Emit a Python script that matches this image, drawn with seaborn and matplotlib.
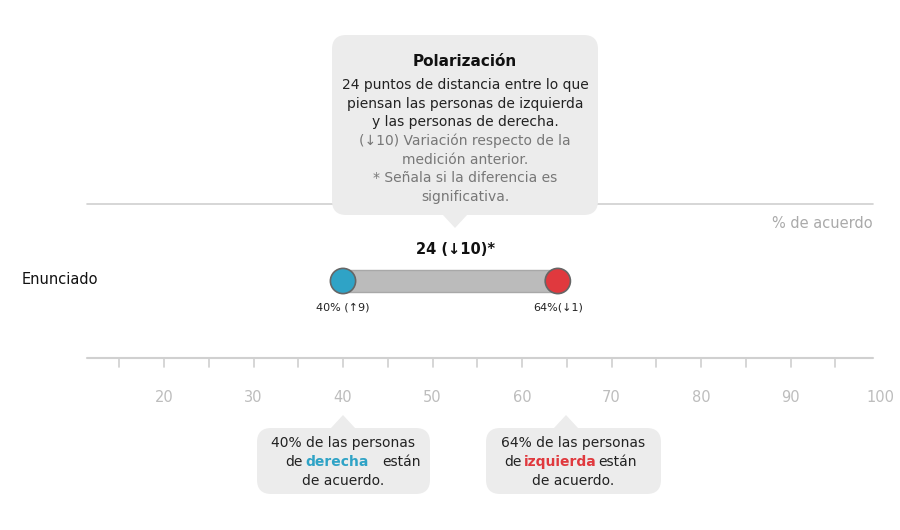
import matplotlib.pyplot as plt
import seaborn as sns
import pandas as pd
from matplotlib.patches import FancyBboxPatch, Polygon, Rectangle

sns.set_style("white")
plt.rcParams['font.family'] = ['DejaVu Sans']

# data
statement = "Enunciado"
groups = ["derecha", "izquierda"]
values = [40, 64]
changes = ["40% (\u21919)", "64%(\u21931)"]
colors = ["#2fa3c6", "#e0393e"]
gap_label = "24 (\u219310)*"
ticks = list(range(15, 100, 5))
tick_labels = [20, 30, 40, 50, 60, 70, 80, 90, 100]

# axes fill the figure; x in data units, y in pixels from the top
PX = 8.95  # pixels per unit
def xv(px):
    return 40 + (px - 343) / PX

fig = plt.figure(figsize=(9, 5.3), dpi=100)
ax = fig.add_axes([0, 0, 1, 1])
ax.set_xlim(xv(0), xv(900))
ax.set_ylim(530, 0)
ax.axis('off')

grey_line = "#d0d0d0"
ax.plot([xv(87), xv(873)], [204, 204], color=grey_line, lw=1.2)
ax.plot([xv(87), xv(873)], [358, 358], color=grey_line, lw=1.5)
for t in ticks:
    ax.plot([t, t], [358, 367], color=grey_line, lw=1.2)
for t in tick_labels:
    ax.text(t, 397, str(t), ha='center', va='center', fontsize=10.5, color="#bdbdbd",
            clip_on=True)
ax.text(xv(873), 223, "% de acuerdo", ha='right', va='center', fontsize=10.5, color="#aaaaaa")
ax.text(xv(22), 280, statement, ha='left', va='center', fontsize=10.5, color="#111111")

# dumbbell bar
ax.add_patch(Rectangle((values[0], 270), values[1] - values[0], 22,
                       facecolor="#bbbbbb", edgecolor="#a8a8a8", lw=1, zorder=2))
df = pd.DataFrame({"x": values, "y": [281, 281], "g": groups})
sns.scatterplot(data=df, x="x", y="y", hue="g", palette=colors, s=330,
                edgecolor="#666666", linewidth=1.2, legend=False, ax=ax, zorder=3)
ax.set_xlabel("")
ax.set_ylabel("")
ax.axis('off')
for v, lab in zip(values, changes):
    ax.text(v, 308, lab, ha='center', va='center', fontsize=8, color="#222222")
ax.text((values[0] + values[1]) / 2 + 0.6, 249, gap_label, ha='center', va='center',
        fontsize=10.5, fontweight='bold', color="#111111")

# tooltip boxes
box_c = "#ececec"
def box(x0, x1, y0, y1, tip_x, tip_y):
    ax.add_patch(FancyBboxPatch((xv(x0), y0), (x1 - x0) / PX, y1 - y0,
                                boxstyle="round,pad=0,rounding_size=1.6",
                                mutation_aspect=PX * 1.0 * (1 / 1), facecolor=box_c,
                                edgecolor='none', zorder=4))
    base = y1 if tip_y > y1 else y0
    ax.add_patch(Polygon([(xv(tip_x - 12), base), (xv(tip_x + 12), base), (xv(tip_x), tip_y)],
                         facecolor=box_c, edgecolor='none', zorder=4))

box(332, 598, 35, 215, 455, 228)
cx = xv(465)
ax.text(cx, 62, "Polarización", ha='center', va='center', fontsize=11, fontweight='bold',
        color="#111111", zorder=5)
top_lines = [("24 puntos de distancia entre lo que", "#222222"),
             ("piensan las personas de izquierda", "#222222"),
             ("y las personas de derecha.", "#222222"),
             ("(\u219310) Variación respecto de la", "#777777"),
             ("medición anterior.", "#777777"),
             ("* Señala si la diferencia es", "#777777"),
             ("significativa.", "#777777")]
for i, (txt, c) in enumerate(top_lines):
    ax.text(cx, 85 + i * 18.7, txt, ha='center', va='center', fontsize=10, color=c, zorder=5)

box(257, 430, 428, 494, 343, 415)
box(486, 661, 428, 494, 566, 415)
for left, mid, word, col, x_de, x_word, x_est in [
        ("40% de las personas", 343, "derecha", colors[0], 303, 305, 382),
        ("64% de las personas", 573, "izquierda", colors[1], 522, 524, 598)]:
    ax.text(xv(mid), 443, left, ha='center', va='center', fontsize=10, color="#222222", zorder=5)
    ax.text(xv(x_de), 462, "de", ha='right', va='center', fontsize=10, color="#222222", zorder=5)
    ax.text(xv(x_word), 462, word, ha='left', va='center', fontsize=10, fontweight='bold',
            color=col, zorder=5)
    ax.text(xv(x_est), 462, "están", ha='left', va='center', fontsize=10, color="#222222", zorder=5)
    ax.text(xv(mid), 481, "de acuerdo.", ha='center', va='center', fontsize=10,
            color="#222222", zorder=5)

fig.savefig("out.png", dpi=100)
